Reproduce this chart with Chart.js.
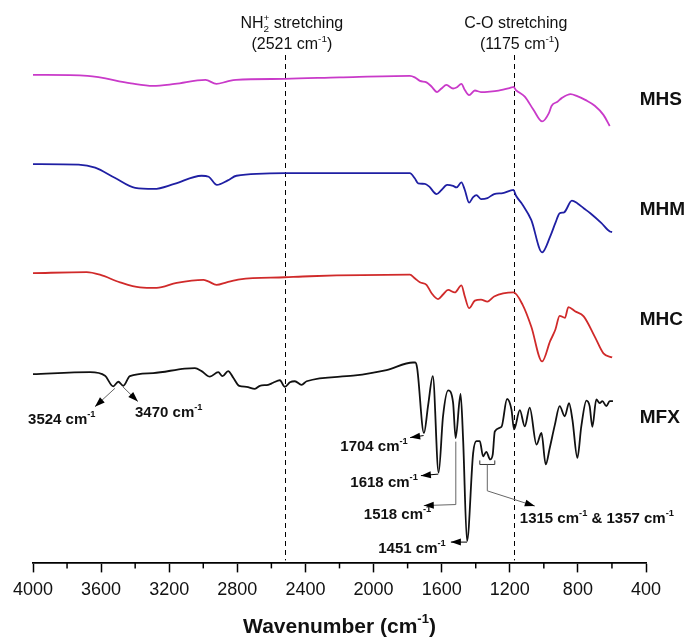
<!DOCTYPE html>
<html>
<head>
<meta charset="utf-8">
<title>FTIR spectra</title>
<script src="https://cdn.jsdelivr.net/npm/chart.js@4.4.0/dist/chart.umd.min.js"></script>
<style>
  html, body { margin: 0; padding: 0; background: #fff; }
</style>
</head>
<body>
<canvas id="ftir" width="686" height="637"></canvas>
<script>
const FONT = '"Liberation Sans", Arial, Helvetica, sans-serif';

// wavenumber (cm-1) / offset transmittance (a.u.) for each sample
const mhsWn = [4000, 3680, 3424, 3296, 3167, 2987, 2923, 2858, 2808, 2521, 2200, 1787, 1758, 1728, 1689, 1660, 1627, 1601, 1572, 1533, 1513, 1484, 1464, 1439, 1405, 1370, 1317, 1266, 1189, 1178, 1164, 1112, 1061, 1010, 971, 954, 920, 895, 843, 804, 754, 701, 650, 613];
const mhsT  = [96.1, 95.9, 94.4, 93.9, 94.3, 95.1, 94.3, 94.8, 95.1, 95.3, 95.6, 95.9, 95.6, 94.9, 94.6, 93.8, 92.7, 93.4, 94.1, 93.4, 93.6, 94.3, 93.1, 92.1, 93.0, 92.7, 92.8, 93.0, 93.6, 93.7, 93.1, 91.8, 89.2, 86.9, 88.5, 90.0, 90.8, 91.5, 92.3, 91.9, 91.1, 90.0, 88.2, 86.0];

const mhmWn = [4000, 3732, 3635, 3520, 3400, 3290, 3170, 3010, 2968, 2920, 2856, 2805, 2521, 1787, 1758, 1738, 1699, 1674, 1630, 1601, 1568, 1533, 1513, 1484, 1464, 1439, 1415, 1396, 1369, 1331, 1292, 1241, 1178, 1164, 1125, 1074, 1010, 963, 932, 907, 881, 835, 804, 766, 727, 663, 612, 599];
const mhmT  = [78.5, 78.4, 77.8, 75.8, 73.8, 73.6, 74.6, 76.2, 76.0, 74.4, 75.3, 76.2, 76.7, 76.7, 75.7, 74.7, 74.6, 74.1, 72.6, 73.4, 74.4, 74.2, 73.9, 74.9, 73.4, 70.9, 72.0, 72.4, 71.6, 71.8, 72.6, 72.8, 73.4, 72.3, 70.5, 67.5, 61.1, 64.2, 66.9, 68.8, 69.0, 71.3, 70.8, 69.8, 68.8, 66.9, 65.2, 65.1];

const mhcWn = [4000, 3685, 3607, 3489, 3372, 3274, 3156, 3000, 2971, 2922, 2863, 2785, 2521, 2374, 1787, 1758, 1728, 1689, 1660, 1621, 1592, 1562, 1523, 1484, 1464, 1439, 1405, 1369, 1331, 1292, 1178, 1125, 1074, 1010, 963, 932, 907, 876, 856, 817, 766, 701, 650, 599];
const mhcT  = [57.0, 57.2, 56.7, 55.2, 54.2, 54.1, 55.1, 55.7, 55.4, 54.7, 55.2, 55.8, 56.2, 56.4, 56.7, 56.0, 55.2, 54.7, 53.1, 51.9, 52.8, 53.7, 53.2, 54.6, 52.4, 50.1, 51.6, 51.8, 51.4, 52.4, 53.2, 50.8, 46.5, 39.6, 43.6, 45.9, 48.6, 48.2, 50.3, 49.5, 48.5, 44.5, 41.2, 40.4];

const mfxWn = [4000, 3665, 3577, 3529, 3499, 3470, 3431, 3294, 3108, 3049, 3010, 2961, 2912, 2887, 2854, 2824, 2789, 2746, 2697, 2668, 2619, 2590, 2550, 2521, 2491, 2462, 2423, 2393, 2120, 1924, 1768, 1755, 1744, 1704, 1679, 1652, 1618, 1592, 1562, 1533, 1518, 1489, 1474, 1451, 1415, 1396, 1376, 1357, 1338, 1315, 1300, 1288, 1249, 1216, 1190, 1175, 1141, 1112, 1083, 1043, 1014, 989, 965, 936, 907, 877, 852, 832, 803, 780, 750, 731, 715, 692, 672, 656, 633, 613, 594];
const mfxT  = [37.1, 37.5, 36.8, 34.7, 35.6, 34.8, 36.7, 37.3, 38.2, 38.3, 37.7, 36.6, 37.5, 36.7, 37.7, 36.4, 34.8, 34.6, 34.2, 34.8, 35.0, 35.4, 35.9, 34.6, 35.5, 35.7, 35.0, 35.7, 36.8, 37.9, 39.4, 39.4, 38.3, 25.5, 31.1, 36.7, 17.7, 28.8, 33.9, 31.5, 24.5, 33.2, 24.2, 4.2, 21.6, 23.9, 23.9, 20.9, 21.8, 20.3, 21.3, 25.8, 26.7, 32.2, 30.1, 26.2, 30.0, 26.8, 30.5, 23.2, 25.5, 19.3, 22.6, 27.0, 30.8, 28.8, 31.4, 28.1, 20.6, 26.8, 31.9, 30.8, 26.7, 32.1, 31.4, 31.8, 30.8, 31.8, 31.8];

const seriesNames  = ['MHS', 'MHM', 'MHC', 'MFX'];
const seriesColors = ['#c93ac9', '#1f1fa3', '#d02a2a', '#111111'];
const seriesWn = [mhsWn, mhmWn, mhcWn, mfxWn];
const seriesT  = [mhsT, mhmT, mhcT, mfxT];
// where each sample name sits at the right-hand side (wavenumber, a.u.)
const nameAnchors = [[437, 91.1], [437, 69.5], [437, 47.9], [437, 28.6]];

// dashed marker lines
const markerWn = [2521, 1175];

const xTicks = { min: 400, max: 4000, major: 400, minor: 200 };

// ---- text helpers -------------------------------------------------------
function partsWidth(ctx, parts, size, weight) {
	let w = 0;
	for (const p of parts) {
		const s = p.mode ? size * 0.62 : size;
		ctx.font = `${weight} ${s}px ${FONT}`;
		let pw = ctx.measureText(p.t).width;
		if (p.t2) pw = Math.max(pw, ctx.measureText(p.t2).width);
		w += pw;
	}
	return w;
}

function richText(ctx, x, y, parts, size, weight, align) {
	const total = partsWidth(ctx, parts, size, weight);
	let cx = x;
	if (align === 'center') cx -= total / 2;
	else if (align === 'right') cx -= total;
	ctx.textAlign = 'left';
	ctx.textBaseline = 'middle';
	ctx.fillStyle = '#111';
	for (const p of parts) {
		const s = p.mode ? size * 0.62 : size;
		ctx.font = `${weight} ${s}px ${FONT}`;
		let w = ctx.measureText(p.t).width;
		if (p.mode === 'sup') {
			ctx.fillText(p.t, cx, y - size * 0.38);
		} else if (p.mode === 'sub') {
			ctx.fillText(p.t, cx, y + size * 0.3);
		} else if (p.mode === 'stack') {
			ctx.fillText(p.t, cx, y + size * 0.3);
			ctx.fillText(p.t2, cx, y - size * 0.38);
			w = Math.max(w, ctx.measureText(p.t2).width);
		} else {
			ctx.fillText(p.t, cx, y);
		}
		cx += w;
	}
}

const cm = (num) => [{ t: num + ' cm' }, { t: '-1', mode: 'sup' }];

function arrow(ctx, pts, lineColor) {
	ctx.save();
	ctx.strokeStyle = lineColor;
	ctx.lineWidth = 1;
	ctx.beginPath();
	pts.forEach(([x, y], i) => (i ? ctx.lineTo(x, y) : ctx.moveTo(x, y)));
	ctx.stroke();
	const [x1, y1] = pts[pts.length - 2];
	const [x2, y2] = pts[pts.length - 1];
	const a = Math.atan2(y2 - y1, x2 - x1);
	const L = 10, W = 3.5;
	ctx.fillStyle = '#000';
	ctx.beginPath();
	ctx.moveTo(x2, y2);
	ctx.lineTo(x2 - L * Math.cos(a) + W * Math.sin(a), y2 - L * Math.sin(a) - W * Math.cos(a));
	ctx.lineTo(x2 - L * Math.cos(a) - W * Math.sin(a), y2 - L * Math.sin(a) + W * Math.cos(a));
	ctx.closePath();
	ctx.fill();
	ctx.restore();
}

// ---- annotations drawn on top of the spectra ----------------------------
const ftirDecor = {
	id: 'ftirDecor',
	beforeDatasetsDraw(chart) {
		const { ctx, scales: { x, y } } = chart;
		ctx.save();
		ctx.strokeStyle = '#000';
		ctx.lineWidth = 1;
		ctx.setLineDash([5, 4]);
		for (const wn of markerWn) {
			const px = Math.round(x.getPixelForValue(wn)) + 0.5;
			ctx.beginPath();
			ctx.moveTo(px, y.getPixelForValue(100));
			ctx.lineTo(px, y.getPixelForValue(0) - 2);
			ctx.stroke();
		}
		ctx.restore();
	},
	afterDraw(chart) {
		const { ctx, scales: { x, y } } = chart;
		const P = (wn, v) => [x.getPixelForValue(wn), y.getPixelForValue(v)];
		ctx.save();

		// minor ticks on the wavenumber axis
		ctx.strokeStyle = '#000';
		ctx.lineWidth = 1.5;
		const base = chart.chartArea.bottom;
		for (let v = xTicks.min + xTicks.minor; v < xTicks.max; v += xTicks.major) {
			const px = x.getPixelForValue(v);
			ctx.beginPath();
			ctx.moveTo(px, base);
			ctx.lineTo(px, base + 6);
			ctx.stroke();
		}

		// axis title
		const [tx] = P((xTicks.min + xTicks.max) / 2, 0);
		richText(ctx, tx, 627, [{ t: 'Wavenumber (cm' }, { t: '-1', mode: 'sup' }, { t: ')' }], 21, 'bold', 'center');

		// band labels above the dashed lines
		let [ax, ay] = P(2480, 106.1);
		richText(ctx, ax, ay, [{ t: 'NH' }, { t: '2', mode: 'stack', t2: '+' }, { t: ' stretching' }], 16, 'normal', 'center');
		[ax, ay] = P(2480, 102);
		richText(ctx, ax, ay, [{ t: '(2521 cm' }, { t: '-1', mode: 'sup' }, { t: ')' }], 16, 'normal', 'center');
		[ax, ay] = P(1165, 106.1);
		richText(ctx, ax, ay, [{ t: 'C-O stretching' }], 16, 'normal', 'center');
		[ax, ay] = P(1141, 102);
		richText(ctx, ax, ay, [{ t: '(1175 cm' }, { t: '-1', mode: 'sup' }, { t: ')' }], 16, 'normal', 'center');

		// sample names
		seriesNames.forEach((name, i) => {
			const [nx, ny] = P(nameAnchors[i][0], nameAnchors[i][1]);
			richText(ctx, nx, ny, [{ t: name }], 19, 'bold', 'left');
		});

		// MFX peak assignments
		const gray = '#666';
		arrow(ctx, [P(3519, 34.3), P(3636, 30.7)], gray);
		arrow(ctx, [P(3472, 34.6), P(3384, 31.7)], gray);
		arrow(ctx, [P(1706, 25.0), P(1785, 24.6)], '#000');
		arrow(ctx, [P(1620, 17.4), P(1722, 17.1)], '#000');
		arrow(ctx, [P(1517, 23.8), P(1517, 11.4), P(1705, 11.2)], gray);
		arrow(ctx, [P(1451, 4.0), P(1546, 4.0)], '#000');

		// bracket over the 1357 / 1315 doublet
		ctx.strokeStyle = '#333';
		ctx.lineWidth = 1;
		ctx.beginPath();
		let p = P(1376, 20.1); ctx.moveTo(p[0], p[1]);
		p = P(1376, 19.3); ctx.lineTo(p[0], p[1]);
		p = P(1288, 19.3); ctx.lineTo(p[0], p[1]);
		p = P(1288, 20.1); ctx.lineTo(p[0], p[1]);
		ctx.stroke();
		arrow(ctx, [P(1332, 19.3), P(1332, 14.1), P(1053, 11.1)], gray);

		[ax, ay] = P(4029, 28.0);
		richText(ctx, ax, ay, cm('3524'), 15, 'bold', 'left');
		[ax, ay] = P(3401, 29.5);
		richText(ctx, ax, ay, cm('3470'), 15, 'bold', 'left');
		[ax, ay] = P(1799, 22.8);
		richText(ctx, ax, ay, cm('1704'), 15, 'bold', 'right');
		[ax, ay] = P(1740, 15.7);
		richText(ctx, ax, ay, cm('1618'), 15, 'bold', 'right');
		[ax, ay] = P(1661, 9.4);
		richText(ctx, ax, ay, cm('1518'), 15, 'bold', 'right');
		[ax, ay] = P(1576, 2.6);
		richText(ctx, ax, ay, cm('1451'), 15, 'bold', 'right');
		[ax, ay] = P(1141, 8.5);
		richText(ctx, ax, ay, [...cm('1315'), { t: ' & ' }, ...cm('1357')], 15, 'bold', 'left');

		ctx.restore();
	},
};

new Chart(document.getElementById('ftir'), {
	type: 'line',
	data: {
		datasets: seriesNames.map((name, i) => ({
			label: name,
			data: seriesWn[i].map((wn, k) => ({ x: wn, y: seriesT[i][k] })),
			borderColor: seriesColors[i],
			borderWidth: 1.8,
			pointRadius: 0,
			cubicInterpolationMode: 'monotone',
			fill: false,
		})),
	},
	options: {
		responsive: false,
		animation: false,
		events: [],
		layout: { padding: { left: 33, right: 40, top: 55, bottom: 29 } },
		plugins: { legend: { display: false }, tooltip: { enabled: false } },
		scales: {
			x: {
				type: 'linear',
				reverse: true,
				min: xTicks.min,
				max: xTicks.max,
				ticks: {
					stepSize: xTicks.minor,
					autoSkip: false,
					maxRotation: 0,
					padding: 7,
					color: '#111',
					font: { family: FONT, size: 18 },
					callback: (v) => (v % xTicks.major === 0 ? String(v) : ''),
				},
				grid: {
					drawOnChartArea: false,
					tickLength: 10,
					tickWidth: 1.5,
					tickColor: (c) => (c.tick && c.tick.value % xTicks.major === 0 ? '#000' : 'rgba(0,0,0,0)'),
				},
				border: { color: '#000', width: 1.8 },
			},
			y: { display: false, min: 0, max: 100 },
		},
	},
	plugins: [ftirDecor],
});
</script>
</body>
</html>
